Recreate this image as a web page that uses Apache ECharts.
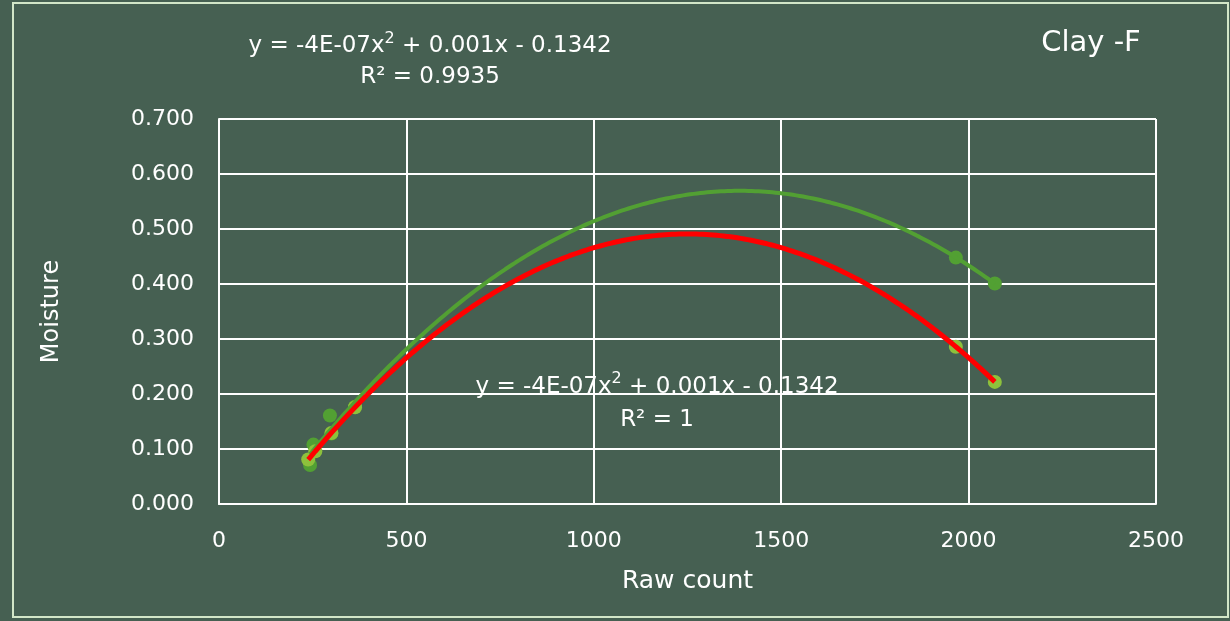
<!DOCTYPE html>
<html>
<head>
<meta charset="utf-8">
<script src="https://cdn.jsdelivr.net/npm/echarts@6/dist/echarts.min.js"></script>
<style>
html,body{margin:0;padding:0;background:#466052;}
#chart{width:1230px;height:621px;}
</style>
</head>
<body>
<div id="chart"></div>
<script>
// ---- data ----
const chartTitle = 'Clay -F';
const xAxisName = 'Raw count';
const yAxisName = 'Moisture';
const rawCountA = [243, 252, 296, 300, 363, 1966, 2070];
const moistureA = [0.071, 0.108, 0.161, 0.128, 0.177, 0.448, 0.401];
const rawCountB = [238, 257, 300, 363, 1966, 2070];
const moistureB = [0.081, 0.096, 0.129, 0.176, 0.286, 0.222];
const eqTextA = ['y = -4E-07x', ' + 0.001x - 0.1342', 'R² = 0.9935'];
const eqTextB = ['y = -4E-07x', ' + 0.001x - 0.1342', 'R² = 1'];

// least-squares quadratic fit (Excel-style polynomial trendline)
function polyFit2(xs, ys) {
  let s = [0,0,0,0,0], t = [0,0,0];
  for (let i = 0; i < xs.length; i++) {
    let p = 1;
    for (let k = 0; k < 5; k++) { s[k] += p; if (k < 3) t[k] += p * ys[i]; p *= xs[i]; }
  }
  const M = [[s[0],s[1],s[2],t[0]],[s[1],s[2],s[3],t[1]],[s[2],s[3],s[4],t[2]]];
  for (let c = 0; c < 3; c++) {
    let piv = c;
    for (let r = c+1; r < 3; r++) if (Math.abs(M[r][c]) > Math.abs(M[piv][c])) piv = r;
    [M[c], M[piv]] = [M[piv], M[c]];
    for (let r = 0; r < 3; r++) if (r !== c) {
      const f = M[r][c] / M[c][c];
      for (let k = c; k < 4; k++) M[r][k] -= f * M[c][k];
    }
  }
  return [M[0][3]/M[0][0], M[1][3]/M[1][1], M[2][3]/M[2][2]]; // c0, c1, c2
}
function trend(xs, ys) {
  const co = polyFit2(xs, ys);
  const lo = Math.min(...xs), hi = Math.max(...xs);
  const out = [];
  const n = 200;
  for (let i = 0; i <= n; i++) {
    const x = lo + (hi - lo) * i / n;
    out.push([x, co[0] + co[1]*x + co[2]*x*x]);
  }
  return out;
}
const pairsA = rawCountA.map((x,i)=>[x, moistureA[i]]);
const pairsB = rawCountB.map((x,i)=>[x, moistureB[i]]);

const FONT = '"DejaVu Sans", sans-serif';
function eqRich(size, lh) {
  return {
    b: {fill: '#ffffff', fontSize: size, fontFamily: FONT, lineHeight: lh},
    s: {fill: '#ffffff', fontSize: Math.round(size * 0.68), fontFamily: FONT, lineHeight: lh, verticalAlign: 'top', padding: [0, 0, 10, 0]}
  };
}
const chart = echarts.init(document.getElementById('chart'), null, {renderer:'canvas'});
chart.setOption({
  animation: false,
  backgroundColor: '#466052',
  grid: {left: 219, right: 74, top: 119, bottom: 117, containLabel: false},
  xAxis: {
    type: 'value', min: 0, max: 2500, interval: 500,
    name: xAxisName, nameLocation: 'middle', nameGap: 65,
    nameTextStyle: {color: '#ffffff', fontSize: 25, fontFamily: FONT},
    axisLine: {show: true, lineStyle: {color: '#ffffff', width: 2}},
    axisTick: {show: false},
    axisLabel: {color: '#ffffff', fontSize: 22, fontFamily: FONT, margin: 26,
      formatter: v => String(v)},
    splitLine: {show: true, lineStyle: {color: '#ffffff', width: 2}}
  },
  yAxis: {
    type: 'value', min: 0, max: 0.7, interval: 0.1,
    name: yAxisName, nameLocation: 'middle', nameGap: 155, nameRotate: 90,
    nameTextStyle: {color: '#ffffff', fontSize: 24, fontFamily: FONT},
    axisLine: {show: true, lineStyle: {color: '#ffffff', width: 2}},
    axisTick: {show: false},
    axisLabel: {color: '#ffffff', fontSize: 22, fontFamily: FONT, margin: 25,
      formatter: v => v.toFixed(3)},
    splitLine: {show: true, lineStyle: {color: '#ffffff', width: 2}}
  },
  series: [
    {type: 'scatter', data: pairsA, symbolSize: 14, itemStyle: {color: '#52a033', opacity: 1}, z: 2},
    {type: 'scatter', data: pairsB, symbolSize: 14, itemStyle: {color: '#8dc13c', opacity: 1}, z: 3},
    {type: 'line', data: trend(rawCountA, moistureA), showSymbol: false, smooth: false,
      lineStyle: {color: '#52a033', width: 4}, z: 4},
    {type: 'line', data: trend(rawCountB, moistureB), showSymbol: false, smooth: false,
      lineStyle: {color: '#ff0000', width: 5}, z: 5}
  ],
  graphic: [
    {type: 'rect', shape: {x: 13, y: 3, width: 1215, height: 614},
      style: {fill: 'none', stroke: '#d2e6c8', lineWidth: 2}, silent: true},
    {type: 'text', x: 1091, y: 43, style: {text: chartTitle, fill: '#ffffff', font: '29px ' + FONT, align: 'center', verticalAlign: 'middle'}},
    {type: 'text', x: 430, y: 62, style: {
      text: '{b|' + eqTextA[0] + '}{s|2}{b|' + eqTextA[1] + '}\n{b|' + eqTextA[2] + '}',
      align: 'center', verticalAlign: 'middle', fill: '#ffffff', rich: eqRich(23, 31)}},
    {type: 'text', x: 657, y: 404, style: {
      text: '{b|' + eqTextB[0] + '}{s|2}{b|' + eqTextB[1] + '}\n{b|' + eqTextB[2] + '}',
      align: 'center', verticalAlign: 'middle', fill: '#ffffff', rich: eqRich(23, 33)}}
  ]
});
</script>
</body>
</html>
